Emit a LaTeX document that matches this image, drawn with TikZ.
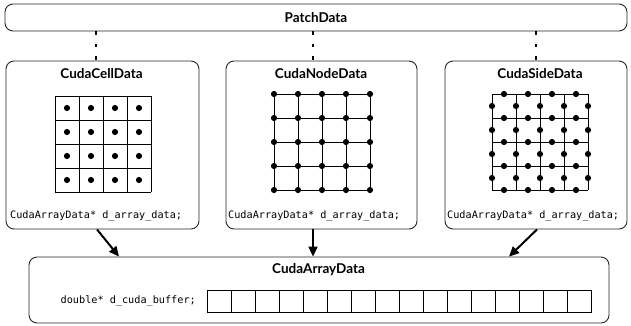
\documentclass[tikz,border=0pt]{standalone}
\usepackage{fontspec}
\setmainfont{Lato}
\newfontfamily\monof{DejaVu Sans Mono}
\usetikzlibrary{arrows.meta}
\begin{document}
\begin{tikzpicture}[x=1pt,y=-1pt,
  box/.style={draw=black!85, line width=0.9pt, rounded corners=8pt, inner sep=0pt},
  title/.style={font=\bfseries\fontsize{13.5}{15}\selectfont, inner sep=0pt},
  mono/.style={font=\monof\fontsize{10.2}{12}\selectfont, inner sep=0pt},
  dotline/.style={line width=1.8pt, dash pattern=on 3.5pt off 9pt},
  bigarrow/.style={line width=2pt, -{Triangle[length=10pt,width=9pt]}},
  gridline/.style={line width=0.7pt},
  thickgrid/.style={line width=1pt},
  dotr/.style={radius=3.1pt}]
\useasboundingbox (0,0) rectangle (631,325);
% boxes
\node[box, minimum width=622pt, minimum height=27pt] (patch) at (316,17.5) {};
\node[box, minimum width=193pt, minimum height=168pt] (cell) at (102.5,145) {};
\node[box, minimum width=191pt, minimum height=168pt] (nodeb) at (321.5,145) {};
\node[box, minimum width=182pt, minimum height=168pt] (side) at (536,145) {};
\node[box, minimum width=580pt, minimum height=66pt] (arr) at (319,290) {};
% titles
\node[title] (tpatch) at (316,17.5) {PatchData};
\node[title] (tcell) at (101.5,74) {CudaCellData};
\node[title] (tnode) at (321,74) {CudaNodeData};
\node[title] (tside) at (540,74) {CudaSideData};
\node[title] (tarr) at (318.5,270) {CudaArrayData};
% member texts
\node[mono, anchor=west] (mcell) at (10,216) {CudaArrayData* d\_array\_data;};
\node[mono, anchor=west] (mnode) at (228,216) {CudaArrayData* d\_array\_data;};
\node[mono, anchor=west] (mside) at (447,216) {CudaArrayData* d\_array\_data;};
\node[mono, anchor=east] (marr) at (196,301) {double* d\_cuda\_buffer;};
% dotted links
\coordinate (d1) at ([xshift=-6.5pt]cell.north);
\coordinate (d2) at ([xshift=-8.5pt]nodeb.north);
\coordinate (d3) at (side.north);
\draw[dotline] (d1 |- patch.south) -- (d1);
\draw[dotline] (d2 |- patch.south) -- (d2);
\draw[dotline] (d3 |- patch.south) -- (d3);
% arrows
\coordinate (a1) at ([xshift=-5.5pt]cell.south);
\coordinate (b1) at ([xshift=-200pt]arr.north);
\coordinate (a2) at ([xshift=-8.5pt]nodeb.south);
\coordinate (b2) at ([xshift=-6pt]arr.north);
\coordinate (a3) at ([xshift=1pt]side.south);
\coordinate (b3) at ([xshift=190pt]arr.north);
\draw[bigarrow] (a1) -- (b1);
\draw[bigarrow] (a2) -- (b2);
\draw[bigarrow] (a3) -- (b3);
% cell-centred grid
\foreach \i in {0,...,4} {
  \draw[gridline] (55+24*\i,96) -- (55+24*\i,192);
  \draw[gridline] (55,96+24*\i) -- (151,96+24*\i);
}
\foreach \i in {0,...,3} \foreach \j in {0,...,3}
  \fill (67+24*\i,108+24*\j) circle[dotr];
% node-centred grid
\foreach \i in {0,...,4} {
  \draw[thickgrid] (274+24*\i,94) -- (274+24*\i,190);
  \draw[thickgrid] (274,94+24*\i) -- (370,94+24*\i);
}
\foreach \i in {0,...,4} \foreach \j in {0,...,4}
  \fill (274+24*\i,94+24*\j) circle[dotr];
% side-centred grid
\foreach \i in {0,...,4} {
  \draw[gridline] (492+24*\i,94) -- (492+24*\i,190);
  \draw[gridline] (492,94+24*\i) -- (588,94+24*\i);
}
\foreach \i in {0,...,3} \foreach \j in {0,...,4} {
  \fill (504+24*\i,94+24*\j) circle[dotr];
  \fill (492+24*\j,106+24*\i) circle[dotr];
}
% buffer
\foreach \i in {0,...,15}
  \draw[gridline] (207+24*\i,290) rectangle (231+24*\i,312);
\end{tikzpicture}
\end{document}
